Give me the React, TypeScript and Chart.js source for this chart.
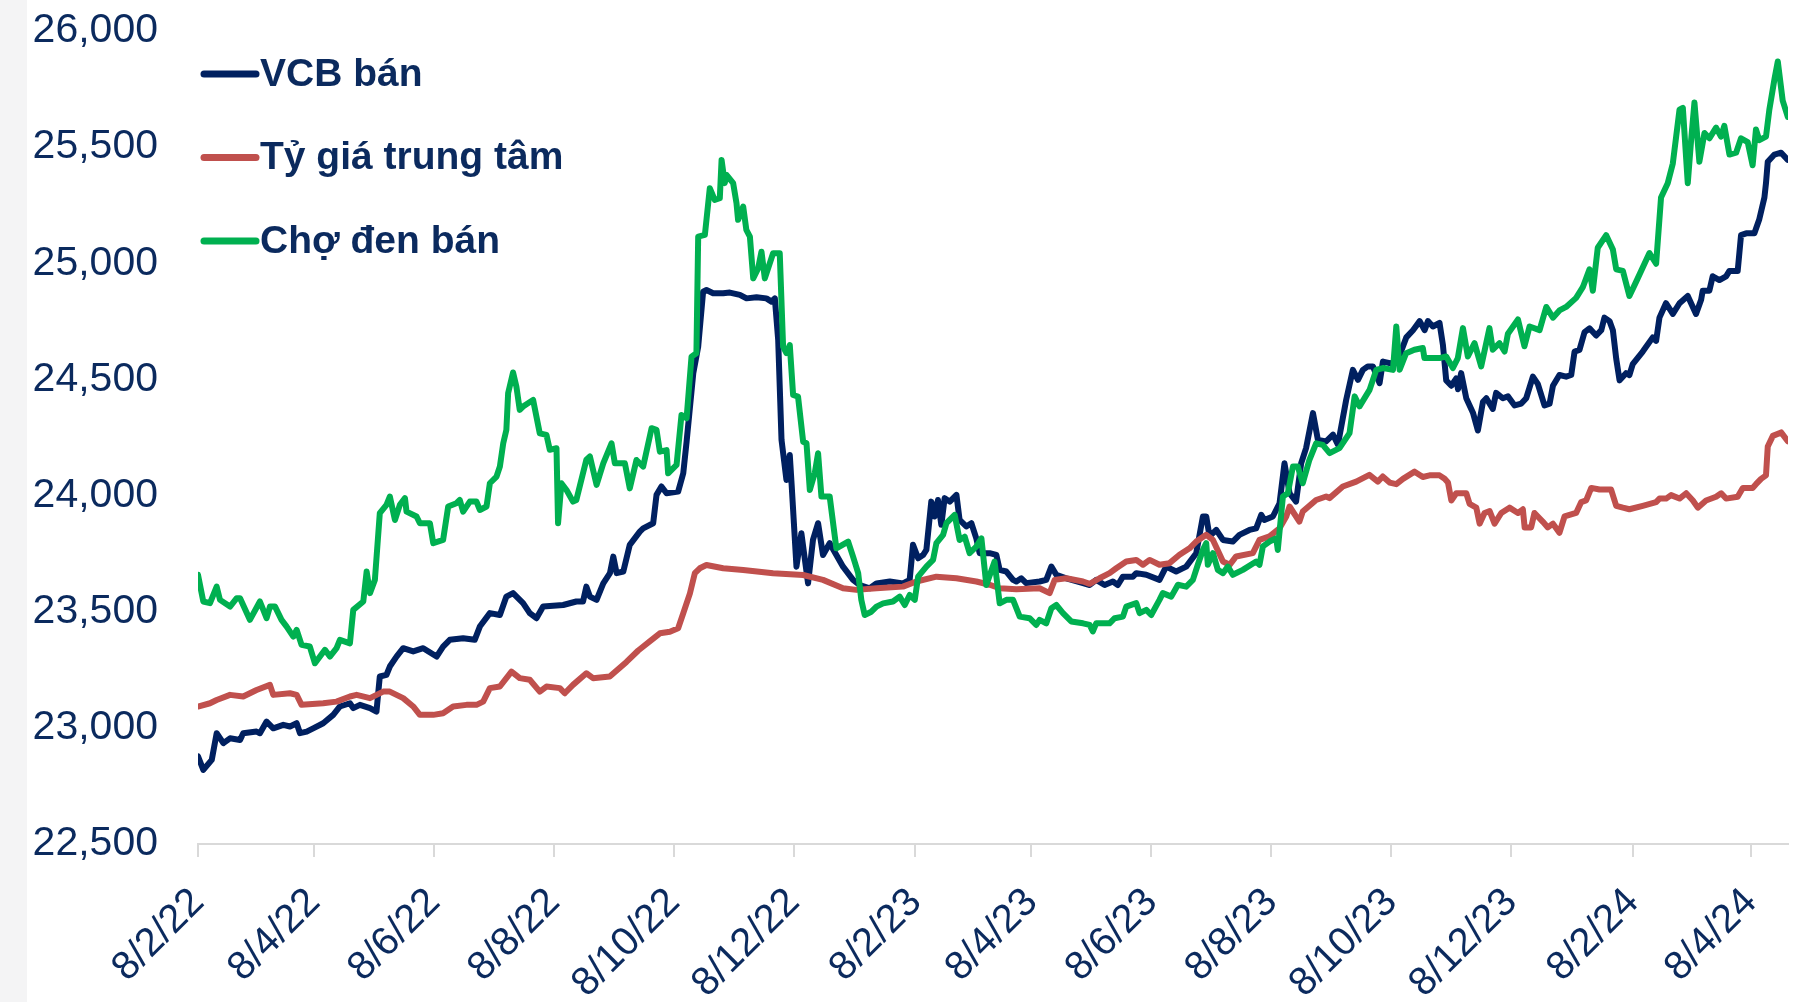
import React, { useEffect, useRef } from 'react';
import { Chart, registerables } from 'chart.js';

Chart.register(...registerables);

// X axis: days since 8/2/2022 (day/month/year)
const tickDays = [0, 59, 120, 181, 242, 303, 365, 424, 485, 546, 607, 668, 730, 790];
const tickLabels = ['8/2/22', '8/4/22', '8/6/22', '8/8/22', '8/10/22', '8/12/22', '8/2/23', '8/4/23', '8/6/23', '8/8/23', '8/10/23', '8/12/23', '8/2/24', '8/4/24'];
const xMax = 809;

const yTicksMin = 22500;
const yTicksMax = 26000;
const yStep = 500;

const seriesNames = ['VCB bán', 'Tỷ giá trung tâm', 'Chợ đen bán'];

const vcbDays = [0, 2.7, 7, 9.5, 12.9, 16.3, 21.4, 23, 29.8, 31.5, 34.9, 38.3, 43.4, 46.8, 50.2, 51.9, 55.3, 58.6, 63.7, 68.8, 72.2, 77.3, 79, 82.4, 87.5, 90.8, 92.5, 95.9, 97.6, 101, 104.4, 109.5, 114.6, 121.4, 124.7, 128.1, 134.9, 140.8, 143.4, 148.5, 153.6, 156.9, 160.3, 165.4, 168.8, 172.2, 175.6, 185.8, 192.5, 195.9, 197.6, 199.4, 202.8, 206.2, 209.6, 211.3, 213, 216.4, 219.7, 224.8, 226.5, 231.6, 233.3, 235.8, 238.4, 244.3, 246.9, 248.6, 252, 254.5, 257, 258.7, 262.1, 267.2, 270.6, 275.7, 279.1, 284.2, 289.2, 291.8, 293.5, 295.2, 296.9, 299.4, 301.1, 302, 304.5, 307, 310.4, 312.9, 315.5, 318, 321.4, 324.8, 328.2, 333.3, 336.7, 341.8, 345.2, 352, 358.7, 362.1, 363.8, 366.4, 368.9, 370.6, 373.1, 374.8, 376.5, 378.2, 379.9, 382.5, 385.9, 387.5, 390.9, 393.5, 396, 397.7, 402.8, 406.2, 407.9, 411.3, 414.7, 416.4, 418.9, 421.4, 428.2, 431.6, 434.2, 436.7, 441.8, 450.3, 453.7, 457, 461.3, 465.5, 468, 470.6, 475.7, 477.4, 482.5, 489.2, 492.6, 497.7, 502.8, 507.9, 511.3, 513, 514.7, 518.1, 521.5, 526.5, 529.9, 535, 538.4, 541, 542.6, 546.9, 550.3, 552.8, 555.4, 558.7, 561.3, 563.8, 567.3, 569.8, 574, 577.5, 580, 584.2, 587.6, 590.2, 592.7, 595.2, 597.8, 601.2, 602.9, 606.3, 609.7, 611.4, 614.8, 618.2, 621.6, 624.1, 625.8, 628.3, 631.7, 633.4, 635.1, 637.7, 640.2, 641.1, 642.7, 645.3, 648.7, 651.2, 653.8, 655.5, 658.8, 660.5, 663.9, 666.5, 669.9, 673.3, 675.8, 679.2, 681.7, 685.1, 687.7, 689.4, 692.7, 696.1, 698.7, 700.4, 702.9, 705.5, 708, 711.4, 714, 715.6, 718.2, 719.9, 721.6, 723.3, 726.6, 728.3, 730, 735.1, 740.2, 741.9, 743.6, 746.9, 750.4, 753.8, 758, 762.2, 764.8, 765.6, 769, 770.7, 774.1, 777.5, 779.2, 783.4, 785.1, 787.7, 791.9, 794.4, 797, 797.8, 798.7, 802.1, 805.5, 808.9];
const vcbValues = [22877, 22819, 22862, 22977, 22934, 22955, 22948, 22977, 22984, 22977, 23027, 22998, 23013, 23006, 23020, 22977, 22984, 22998, 23020, 23056, 23092, 23106, 23085, 23099, 23085, 23070, 23221, 23228, 23264, 23307, 23343, 23329, 23343, 23307, 23350, 23379, 23386, 23379, 23436, 23494, 23486, 23565, 23580, 23537, 23494, 23472, 23522, 23529, 23544, 23544, 23608, 23565, 23551, 23622, 23666, 23737, 23666, 23673, 23788, 23845, 23859, 23881, 24003, 24039, 24010, 24017, 24096, 24232, 24527, 24641, 24878, 24885, 24871, 24871, 24874, 24864, 24849, 24854, 24849, 24835, 24849, 24670, 24240, 24067, 24175, 24053, 23694, 23838, 23622, 23809, 23881, 23744, 23795, 23744, 23694, 23637, 23615, 23601, 23622, 23630, 23622, 23637, 23788, 23730, 23744, 23766, 23974, 23910, 23981, 23874, 23989, 23974, 24003, 23895, 23867, 23881, 23816, 23752, 23752, 23745, 23680, 23673, 23637, 23630, 23644, 23623, 23630, 23637, 23694, 23659, 23644, 23623, 23615, 23637, 23615, 23630, 23615, 23651, 23651, 23666, 23659, 23637, 23694, 23673, 23694, 23752, 23910, 23910, 23824, 23852, 23809, 23802, 23831, 23852, 23859, 23917, 23895, 23910, 23967, 24139, 24010, 23974, 24139, 24204, 24355, 24240, 24233, 24262, 24219, 24412, 24541, 24498, 24541, 24556, 24556, 24484, 24577, 24570, 24573, 24604, 24681, 24712, 24751, 24712, 24751, 24728, 24743, 24650, 24496, 24473, 24504, 24458, 24527, 24419, 24357, 24280, 24404, 24419, 24373, 24442, 24419, 24427, 24388, 24396, 24419, 24512, 24481, 24388, 24396, 24473, 24519, 24512, 24519, 24620, 24627, 24704, 24720, 24689, 24712, 24766, 24751, 24712, 24589, 24496, 24527, 24519, 24566, 24620, 24681, 24666, 24766, 24828, 24782, 24828, 24859, 24782, 24843, 24882, 24882, 24944, 24928, 24944, 24967, 24967, 25121, 25129, 25129, 25190, 25283, 25345, 25437, 25468, 25476, 25445];

const centralDays = [0, 6.1, 9.5, 16.3, 23, 29.8, 36.6, 38.3, 46.8, 50.2, 52.7, 63.7, 70.5, 77.3, 80.7, 87.5, 94.2, 97.6, 104.4, 109.5, 112.9, 119.7, 124.7, 129.8, 136.6, 141.7, 145.1, 148.5, 153.6, 159.5, 163.7, 168.8, 173.9, 177.3, 184.1, 186.6, 190.8, 197.6, 201, 209.5, 218, 224, 230, 235, 240.1, 244.3, 246.9, 250.3, 252.8, 255.3, 258.7, 267.2, 277.4, 292.6, 307.9, 318, 328.2, 335, 345.2, 358.7, 365.5, 375.7, 385.9, 396, 402.8, 407.9, 416.4, 428.2, 433.3, 435.9, 441.8, 450.3, 453.7, 458.7, 463.8, 467.2, 472.3, 477.4, 480.8, 484.2, 489.2, 494.3, 499.4, 504.5, 507.9, 513, 516.4, 521.5, 524.9, 528.2, 536.7, 540.1, 545.2, 550.3, 553.7, 555.4, 560.4, 562.1, 568.9, 574, 575.7, 582.5, 589.3, 596, 600.3, 602.8, 606.3, 609.7, 613.1, 619, 623.2, 626.6, 631.7, 634.3, 636, 637.7, 640.2, 645.3, 647, 650.4, 652.1, 654.6, 657.2, 659.7, 663.1, 667.3, 671.6, 674.1, 675, 678.3, 680, 684.3, 686.8, 689.4, 692.7, 695.3, 701.2, 703.8, 706.3, 708.9, 713.1, 719, 721.6, 725, 728.3, 735.1, 741.9, 743.6, 747, 749.5, 753.8, 757.2, 760.6, 763.1, 767.3, 772.4, 775, 777.5, 783.4, 786, 791, 792.7, 795.3, 797.8, 798.7, 801.3, 805.5, 808.9];
const centralValues = [23092, 23106, 23120, 23142, 23135, 23163, 23185, 23142, 23149, 23142, 23099, 23106, 23113, 23135, 23142, 23128, 23156, 23156, 23128, 23092, 23056, 23056, 23063, 23092, 23099, 23099, 23113, 23171, 23178, 23242, 23214, 23207, 23156, 23178, 23171, 23149, 23185, 23235, 23214, 23221, 23284, 23333, 23373, 23407, 23414, 23429, 23493, 23579, 23666, 23687, 23701, 23687, 23680, 23666, 23658, 23637, 23601, 23594, 23601, 23608, 23630, 23651, 23644, 23630, 23616, 23601, 23597, 23601, 23580, 23637, 23644, 23630, 23620, 23644, 23666, 23687, 23716, 23723, 23702, 23723, 23702, 23709, 23745, 23773, 23802, 23831, 23809, 23716, 23702, 23738, 23752, 23809, 23824, 23859, 23910, 23953, 23888, 23931, 23981, 23996, 23989, 24039, 24060, 24089, 24060, 24082, 24056, 24049, 24072, 24103, 24080, 24087, 24087, 24072, 24056, 23979, 24010, 24010, 23964, 23948, 23879, 23925, 23933, 23879, 23925, 23948, 23925, 23941, 23863, 23863, 23925, 23887, 23863, 23879, 23840, 23910, 23925, 23972, 23979, 24033, 24026, 24026, 23956, 23948, 23941, 23956, 23972, 23987, 23987, 24002, 23987, 24010, 23979, 23948, 23979, 23995, 24010, 23987, 23995, 24033, 24033, 24049, 24072, 24087, 24211, 24257, 24272, 24234];

const blackDays = [0, 2.7, 6.1, 9.5, 11.2, 16.3, 19.7, 21.4, 26.4, 31.5, 34.9, 36.6, 39.2, 42.5, 45.1, 48.5, 50.2, 52.7, 56.9, 59.5, 64.6, 67.1, 70.5, 72.2, 77.3, 79, 84.1, 85.8, 87.5, 90, 92.5, 95.9, 97.6, 100.2, 102.7, 105.3, 106.1, 111.2, 112.9, 118, 119.7, 124.7, 127.3, 131.5, 133.2, 134.9, 138.3, 141.7, 143.4, 146.8, 148.5, 151.9, 153.6, 155.3, 156.9, 157.8, 160.3, 162, 163.7, 165.4, 170.5, 173.9, 177.3, 179, 182.4, 183.2, 184.9, 187.5, 190.8, 192.5, 197.6, 199.4, 202.8, 206.2, 210.4, 212.1, 217.2, 219.7, 223.1, 226.5, 230.8, 233.3, 235, 238.4, 239.2, 243.5, 246, 248.6, 251.1, 253.6, 254.5, 257.9, 260.4, 262.9, 265.5, 266.4, 268, 268.9, 272.3, 274, 274.8, 277.4, 279, 280.8, 282.5, 285, 286.7, 288.4, 292.6, 296, 297.7, 299.4, 301.1, 302.8, 305.3, 307.9, 309.6, 311.3, 313.8, 315.5, 317.2, 321.4, 324.8, 330.8, 333.3, 335.9, 337.5, 339.2, 342.6, 345.2, 348.6, 353.6, 357, 359.6, 362.1, 364.7, 366.4, 370.6, 374, 375.7, 379.1, 380.8, 385, 387.5, 390.1, 392.6, 396, 398.6, 401.1, 405.3, 407.9, 411.3, 414.7, 418.1, 423.1, 426.5, 428.2, 431.6, 434.2, 436.7, 440.1, 444.3, 450.3, 453.7, 455.3, 457, 463.8, 466.4, 470.6, 472.3, 477.4, 479.1, 482.5, 485, 489.2, 490.9, 495.2, 498.6, 502.8, 506.2, 508.7, 511.3, 513, 513.8, 516.4, 518.9, 521.5, 524, 526.5, 531.6, 538.4, 540.1, 541.8, 545.2, 548.6, 549.4, 552, 554.5, 557.1, 559.6, 562.1, 565.5, 568.9, 572.3, 575.8, 580.8, 585.9, 588.5, 591, 596.1, 599.5, 602.9, 608, 609.7, 611.4, 614.7, 618.9, 623.2, 624, 631.7, 635.1, 638.5, 641, 643.6, 646.1, 649.5, 652.9, 657.1, 658.8, 662.2, 664.8, 666.5, 671.6, 674.9, 677.5, 682.6, 686, 689.4, 692.7, 696.1, 701.2, 704.6, 708, 709.7, 712.2, 716.5, 719.9, 721.6, 725, 728.3, 731.7, 738.5, 741.9, 744.4, 747.8, 750.4, 753.8, 755.5, 758, 759.7, 761.4, 763.9, 766.5, 769, 772.4, 774.9, 776.6, 779.2, 782.6, 785.1, 788.5, 791, 792.7, 794.4, 797.8, 799.5, 802.1, 803.8, 806.3, 808.9];
const blackValues = [23659, 23544, 23537, 23608, 23551, 23522, 23558, 23558, 23465, 23544, 23472, 23522, 23522, 23465, 23436, 23393, 23422, 23357, 23350, 23278, 23336, 23307, 23343, 23379, 23364, 23508, 23544, 23673, 23580, 23637, 23924, 23960, 23996, 23895, 23960, 23989, 23931, 23910, 23881, 23881, 23795, 23809, 23953, 23967, 23981, 23931, 23974, 23974, 23938, 23953, 24053, 24082, 24125, 24225, 24283, 24441, 24530, 24469, 24369, 24383, 24412, 24268, 24261, 24197, 24204, 23881, 24053, 24024, 23974, 23981, 24154, 24168, 24046, 24139, 24225, 24139, 24139, 24031, 24153, 24125, 24290, 24283, 24189, 24196, 24096, 24132, 24347, 24333, 24598, 24613, 25115, 25122, 25323, 25273, 25280, 25445, 25345, 25380, 25345, 25258, 25187, 25244, 25144, 25115, 24935, 24978, 25050, 24935, 25043, 25043, 24641, 24613, 24648, 24433, 24426, 24232, 24225, 24024, 24096, 24182, 23996, 23996, 23773, 23802, 23737, 23666, 23551, 23486, 23500, 23522, 23536, 23544, 23565, 23529, 23572, 23551, 23651, 23694, 23723, 23795, 23831, 23881, 23917, 23809, 23823, 23752, 23780, 23816, 23615, 23716, 23536, 23551, 23551, 23479, 23472, 23443, 23465, 23450, 23515, 23529, 23494, 23458, 23450, 23443, 23415, 23450, 23450, 23472, 23479, 23522, 23537, 23494, 23508, 23486, 23551, 23580, 23565, 23616, 23608, 23637, 23702, 23766, 23795, 23702, 23752, 23680, 23666, 23694, 23659, 23680, 23716, 23702, 23781, 23802, 23816, 23766, 23996, 24010, 24125, 24125, 24053, 24154, 24225, 24218, 24183, 24204, 24269, 24427, 24384, 24455, 24541, 24549, 24541, 24728, 24542, 24613, 24628, 24635, 24592, 24592, 24599, 24549, 24592, 24721, 24599, 24656, 24556, 24721, 24628, 24656, 24620, 24697, 24758, 24643, 24728, 24712, 24812, 24766, 24797, 24812, 24851, 24897, 24974, 24882, 25067, 25121, 25059, 24974, 24967, 24859, 24920, 25044, 24998, 25283, 25345, 25430, 25661, 25669, 25345, 25530, 25692, 25437, 25561, 25538, 25584, 25545, 25592, 25468, 25476, 25538, 25522, 25422, 25576, 25530, 25545, 25661, 25792, 25869, 25700, 25630];

const NAVY = '#002060';
const RED = '#C0504D';
const GREEN = '#00B050';
const TEXT = '#0B2A5E';
const seriesColors = [NAVY, RED, GREEN];

const toPoints = (days: number[], values: number[]) => days.map((d, i) => ({ x: d, y: values[i] }));

const insideLegend = {
  id: 'insideLegend',
  afterDatasetsDraw(chart: any) {
    const { ctx, chartArea } = chart;
    const x0 = chartArea.left + 6;
    const lineLen = 52;
    ctx.save();
    seriesNames.forEach((name, i) => {
      const y = chartArea.top + 43 + i * 83.5;
      ctx.strokeStyle = seriesColors[i];
      ctx.lineWidth = 7;
      ctx.lineCap = 'round';
      ctx.beginPath();
      ctx.moveTo(x0, y);
      ctx.lineTo(x0 + lineLen, y);
      ctx.stroke();
      ctx.fillStyle = TEXT;
      ctx.font = 'bold 39px "Liberation Sans", Arial, sans-serif';
      ctx.textBaseline = 'middle';
      ctx.textAlign = 'left';
      ctx.fillText(name, x0 + lineLen + 4, y + 1);
    });
    ctx.restore();
  },
};

export default function App() {
  const canvasRef = useRef<HTMLCanvasElement | null>(null);

  useEffect(() => {
    const canvas = canvasRef.current;
    if (!canvas) return;
    const chart = new Chart(canvas, {
      type: 'line',
      data: {
        datasets: [
          { label: seriesNames[0], data: toPoints(vcbDays, vcbValues), borderColor: NAVY, backgroundColor: NAVY, order: 3 },
          { label: seriesNames[1], data: toPoints(centralDays, centralValues), borderColor: RED, backgroundColor: RED, order: 2 },
          { label: seriesNames[2], data: toPoints(blackDays, blackValues), borderColor: GREEN, backgroundColor: GREEN, order: 1 },
        ],
      },
      options: {
        responsive: false,
        animation: false,
        devicePixelRatio: 1,
        layout: { padding: { left: 0, right: 17, top: 31, bottom: 0 } },
        elements: {
          point: { radius: 0, hoverRadius: 0 },
          line: { borderWidth: 6, tension: 0, borderJoinStyle: 'round', borderCapStyle: 'round' },
        },
        plugins: { legend: { display: false }, tooltip: { enabled: false } },
        scales: {
          x: {
            type: 'linear',
            min: 0,
            max: xMax,
            afterBuildTicks: (axis: any) => {
              axis.ticks = tickDays.map((v) => ({ value: v }));
            },
            afterFit: (scale: any) => {
              scale.height = 158;
              scale.paddingLeft = 0;
              scale.paddingRight = 0;
            },
            ticks: {
              autoSkip: false,
              minRotation: 45,
              maxRotation: 45,
              color: TEXT,
              padding: 22,
              font: { family: '"Liberation Sans", Arial, sans-serif', size: 40 },
              callback: (value: any) => {
                const i = tickDays.indexOf(Number(value));
                return i >= 0 ? tickLabels[i] : '';
              },
            },
            grid: { drawOnChartArea: false, drawTicks: true, tickLength: 13, color: '#D9D9D9', lineWidth: 2 },
            border: { display: true, color: '#D9D9D9', width: 2 },
          },
          y: {
            min: yTicksMin,
            max: yTicksMax,
            afterFit: (scale: any) => {
              scale.width = 198;
              scale.paddingTop = 0;
              scale.paddingBottom = 0;
            },
            ticks: {
              stepSize: yStep,
              color: TEXT,
              padding: 40,
              font: { family: '"Liberation Sans", Arial, sans-serif', size: 41 },
              callback: (value: any) => Number(value).toLocaleString('en-US'),
            },
            grid: { display: false, drawTicks: false },
            border: { display: false },
          },
        },
      },
      plugins: [insideLegend],
    });
    return () => chart.destroy();
  }, []);

  return (
    <div style={{ position: 'fixed', left: 0, top: 0, width: 1805, height: 1002, background: '#FFFFFF', overflow: 'hidden' }}>
      <div style={{ position: 'absolute', left: 0, top: 0, width: 27, height: 1002, background: '#F4F4F5' }} />
      <canvas ref={canvasRef} width={1805} height={1002} style={{ position: 'absolute', left: 0, top: 0, width: 1805, height: 1002 }} />
    </div>
  );
}
